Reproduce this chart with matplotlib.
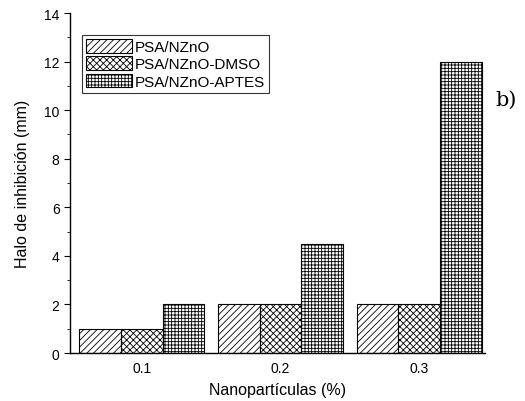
import numpy as np
import matplotlib.pyplot as plt
from matplotlib.ticker import MultipleLocator

plt.rcParams['font.family'] = ['Liberation Sans', 'DejaVu Sans']
plt.rcParams['hatch.linewidth'] = 0.6

# Datos
categorias = ['0.1', '0.2', '0.3']
series = ['PSA/NZnO', 'PSA/NZnO-DMSO', 'PSA/NZnO-APTES']
psa_nzno = [1, 2, 2]
psa_dmso = [1, 2, 2]
psa_aptes = [2, 4.5, 12]
tramas = ['/////', 'xxxxx', '+++++']

valores = [psa_nzno, psa_dmso, psa_aptes]

fig = plt.figure(figsize=(5.25, 4.02), dpi=100)
ax = fig.add_axes([0.1333, 0.1194, 0.7907, 0.8456])

x = np.arange(len(categorias))
ancho = 0.3
for i, (nombre, vals, trama) in enumerate(zip(series, valores, tramas)):
    ax.bar(x + (i - 1) * ancho, vals, width=ancho, color='white',
           edgecolor='black', hatch=trama, linewidth=0.8, label=nombre)

ax.set_xlim(-0.518, 2.475)
ax.set_ylim(0, 14)
ax.set_xticks(x)
ax.set_xticklabels(categorias)
ax.yaxis.set_major_locator(MultipleLocator(2))
ax.yaxis.set_minor_locator(MultipleLocator(1))
ax.tick_params(axis='x', length=0, labelsize=10, pad=6)
ax.tick_params(axis='y', which='major', length=4, labelsize=10, direction='out')
ax.tick_params(axis='y', which='minor', length=2, direction='out')

for lado in ['top', 'right']:
    ax.spines[lado].set_visible(False)
ax.spines['left'].set_linewidth(1.0)
ax.spines['bottom'].set_linewidth(1.0)

ax.set_xlabel('Nanopartículas (%)', fontsize=11.5, labelpad=5)
ax.set_ylabel('Halo de inhibición (mm)', fontsize=11.5, labelpad=10)

leg = ax.legend(loc='upper left', bbox_to_anchor=(0.03, 0.935), fontsize=11,
                frameon=True, fancybox=False, edgecolor='black',
                handlelength=3.0, handleheight=1.0, handletextpad=0.2,
                labelspacing=0.15, borderpad=0.25, borderaxespad=0)
leg.get_frame().set_linewidth(0.8)

fig.text(0.965, 0.75, 'b)', fontsize=15, family='DejaVu Serif',
         ha='center', va='center')

fig.savefig('out.png', dpi=100)
